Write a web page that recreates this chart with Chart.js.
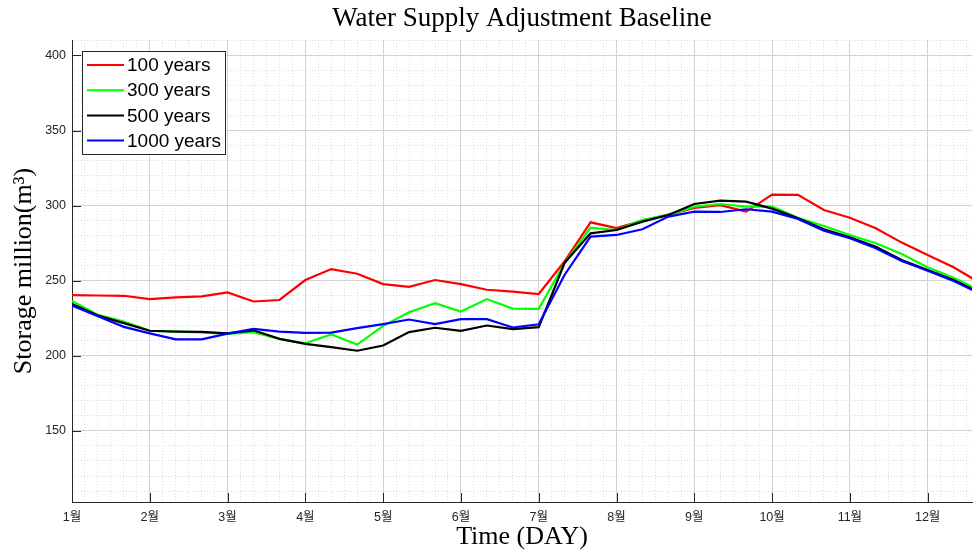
<!DOCTYPE html>
<html lang="ko">
<head>
    <meta charset="UTF-8">
    <title>Water Supply Adjustment Baseline</title>
    <style>
        html, body { margin: 0; padding: 0; background: #fff; }
    </style>
</head>
<body>
    <canvas id="myChart" width="973" height="555"></canvas>
    <script src="https://cdn.jsdelivr.net/npm/chart.js@4"></script>
    <script>
        // one value per dekad (10 days), index 0 = start of January
        const monthLabels = ['1월', '2월', '3월', '4월', '5월', '6월', '7월', '8월', '9월', '10월', '11월', '12월'];
        const monthTicks = [0, 3, 6, 9, 12, 15, 18, 21, 24, 27, 30, 33];
        const yTicks = [150, 200, 250, 300, 350, 400];
        const xMax = 34.71;
        const yMin = 102.7;
        const yMax = 410.3;

        const seriesNames = ['100 years', '300 years', '500 years', '1000 years'];
        const seriesColors = ['#ff0000', '#00ff00', '#000000', '#0000ff'];

        const y100 = [240.4, 240.2, 240.0, 237.8, 239.0, 239.6, 242.2, 236.2, 237.2, 250.5, 257.8, 254.7,
                      247.8, 246.0, 250.5, 247.8, 244.0, 242.8, 241.2, 263.0, 288.9, 285.1, 290.0, 294.0,
                      298.5, 300.3, 296.0, 307.3, 307.2, 297.1, 292.0, 285.0, 275.4, 267.2, 259.0, 248.8];
        const y300 = [236.5, 227.3, 222.9, 216.7, 216.2, 215.6, 214.6, 215.8, 211.3, 208.4, 214.2, 207.5,
                      220.0, 229.1, 235.1, 229.5, 237.8, 231.5, 231.3, 261.8, 285.4, 283.8, 290.5, 293.8,
                      299.3, 301.1, 299.3, 299.3, 292.0, 286.5, 280.5, 275.0, 267.8, 259.0, 252.0, 243.5];
        const y500 = [234.5, 226.8, 221.8, 216.7, 216.2, 216.0, 215.0, 217.0, 211.3, 208.0, 205.8, 203.4,
                      206.9, 215.8, 218.7, 216.7, 220.2, 217.8, 219.1, 262.0, 281.6, 283.8, 289.4, 293.8,
                      301.1, 303.3, 302.7, 298.0, 291.6, 284.3, 279.0, 272.7, 263.8, 257.2, 250.5, 242.0];
        const y1000 = [233.5, 226.3, 219.3, 215.0, 211.0, 211.0, 214.8, 218.0, 216.2, 215.3, 215.5, 218.5,
                       221.1, 224.2, 221.1, 224.4, 224.4, 218.9, 221.0, 254.0, 279.4, 280.5, 284.3, 292.7,
                       296.0, 295.8, 297.6, 296.0, 291.1, 283.4, 278.3, 271.6, 263.2, 256.7, 249.9, 241.5];

        const allSeries = [y100, y300, y500, y1000];

        const axisColor = '#262626';
        const tickFont = { family: "'Liberation Sans', 'Noto Sans CJK KR', sans-serif", size: 12.5 };
        const serifFont = "'Liberation Serif', 'DejaVu Serif', serif";

        // MATLAB style tick marks pointing into the plot
        const inwardTicks = {
            id: 'inwardTicks',
            beforeDatasetsDraw(chart) {
                const { ctx, chartArea: a, scales: { x, y } } = chart;
                ctx.save();
                ctx.strokeStyle = axisColor;
                ctx.lineWidth = 1;
                ctx.beginPath();
                x.ticks.forEach(t => {
                    const px = Math.round(x.getPixelForValue(t.value)) + 0.5;
                    ctx.moveTo(px, a.bottom);
                    ctx.lineTo(px, a.bottom - 9);
                });
                y.ticks.forEach(t => {
                    const py = Math.round(y.getPixelForValue(t.value)) + 0.5;
                    ctx.moveTo(a.left, py);
                    ctx.lineTo(a.left + 9, py);
                });
                ctx.stroke();
                ctx.restore();
            }
        };

        // boxed legend in the upper-left corner of the axes
        const boxLegend = {
            id: 'boxLegend',
            afterDraw(chart) {
                const { ctx, chartArea: a } = chart;
                const left = a.left + 10, top = a.top + 10.5;
                const w = 143, h = 103, pitch = 25.2;
                ctx.save();
                ctx.fillStyle = '#ffffff';
                ctx.fillRect(left, top, w, h);
                ctx.strokeStyle = axisColor;
                ctx.lineWidth = 1;
                ctx.strokeRect(Math.round(left) + 0.5, Math.round(top) + 0.5, w, h);
                ctx.font = "19px 'Liberation Sans', Arial, sans-serif";
                ctx.textBaseline = 'middle';
                chart.data.datasets.forEach((ds, i) => {
                    const cy = top + 14.5 + i * pitch;
                    ctx.strokeStyle = ds.borderColor;
                    ctx.lineWidth = 2;
                    ctx.beginPath();
                    ctx.moveTo(left + 5, cy);
                    ctx.lineTo(left + 42, cy);
                    ctx.stroke();
                    ctx.fillStyle = '#000000';
                    ctx.fillText(ds.label, left + 45, cy + 1);
                });
                ctx.restore();
            }
        };

        const ctx = document.getElementById('myChart').getContext('2d');
        new Chart(ctx, {
            type: 'line',
            data: {
                datasets: seriesNames.map((name, i) => ({
                    label: name,
                    data: allSeries[i].map((v, k) => ({ x: k, y: v })),
                    borderColor: seriesColors[i],
                    backgroundColor: seriesColors[i],
                    borderWidth: 2.2,
                    pointRadius: 0,
                    tension: 0,
                    fill: false,
                    order: seriesNames.length - i
                }))
            },
            options: {
                responsive: false,
                animation: false,
                layout: { padding: { left: 0, right: 1, top: 0, bottom: 0 } },
                plugins: {
                    legend: { display: false },
                    tooltip: { enabled: false },
                    title: {
                        display: true,
                        fullSize: false,
                        text: 'Water Supply Adjustment Baseline',
                        color: '#000000',
                        font: { family: serifFont, size: 27, weight: 'normal' },
                        padding: { top: 2.8, bottom: 4.8 }
                    }
                },
                scales: {
                    x: {
                        type: 'linear',
                        position: 'bottom',
                        min: 0,
                        max: xMax,
                        afterBuildTicks: s => { s.ticks = monthTicks.map(v => ({ value: v })); },
                        afterFit: s => { s.height = 53; },
                        ticks: {
                            color: axisColor,
                            font: tickFont,
                            padding: 8,
                            maxRotation: 0,
                            autoSkip: false,
                            callback: v => monthLabels[monthTicks.indexOf(v)]
                        },
                        grid: { color: '#d2d2d2', lineWidth: 1, drawTicks: false },
                        border: { display: true, color: axisColor, width: 1 },
                        title: {
                            display: true,
                            text: 'Time (DAY)',
                            color: '#000000',
                            font: { family: serifFont, size: 26 },
                            padding: { top: 0, bottom: 2.5 }
                        }
                    },
                    y: {
                        type: 'linear',
                        position: 'left',
                        min: yMin,
                        max: yMax,
                        afterBuildTicks: s => { s.ticks = yTicks.map(v => ({ value: v })); },
                        afterFit: s => { s.width = 72; },
                        ticks: { color: axisColor, font: tickFont, padding: 6 },
                        grid: { color: '#d2d2d2', lineWidth: 1, drawTicks: false },
                        border: { display: true, color: axisColor, width: 1 },
                        title: {
                            display: true,
                            text: 'Storage million(m³)',
                            color: '#000000',
                            font: { family: serifFont, size: 26 },
                            padding: { top: 9, bottom: 0 }
                        }
                    },
                    xMinor: {
                        type: 'linear',
                        position: 'top',
                        min: 0,
                        max: xMax,
                        afterBuildTicks: s => {
                            const t = [];
                            for (let v = 0; v <= xMax; v += 0.5) t.push({ value: v });
                            s.ticks = t;
                        },
                        afterFit: s => { s.height = 0; },
                        ticks: { display: false },
                        grid: { color: '#dcdcdc', lineWidth: 1, drawTicks: false, z: -2 },
                        border: { display: false, dash: [1, 2] }
                    },
                    yMinor: {
                        type: 'linear',
                        position: 'right',
                        min: yMin,
                        max: yMax,
                        afterBuildTicks: s => {
                            const t = [];
                            for (let v = 110; v <= yMax; v += 10) t.push({ value: v });
                            s.ticks = t;
                        },
                        afterFit: s => { s.width = 0; },
                        ticks: { display: false },
                        grid: { color: '#dcdcdc', lineWidth: 1, drawTicks: false, z: -2 },
                        border: { display: false, dash: [1, 2] }
                    }
                }
            },
            plugins: [inwardTicks, boxLegend]
        });
    </script>
</body>
</html>
